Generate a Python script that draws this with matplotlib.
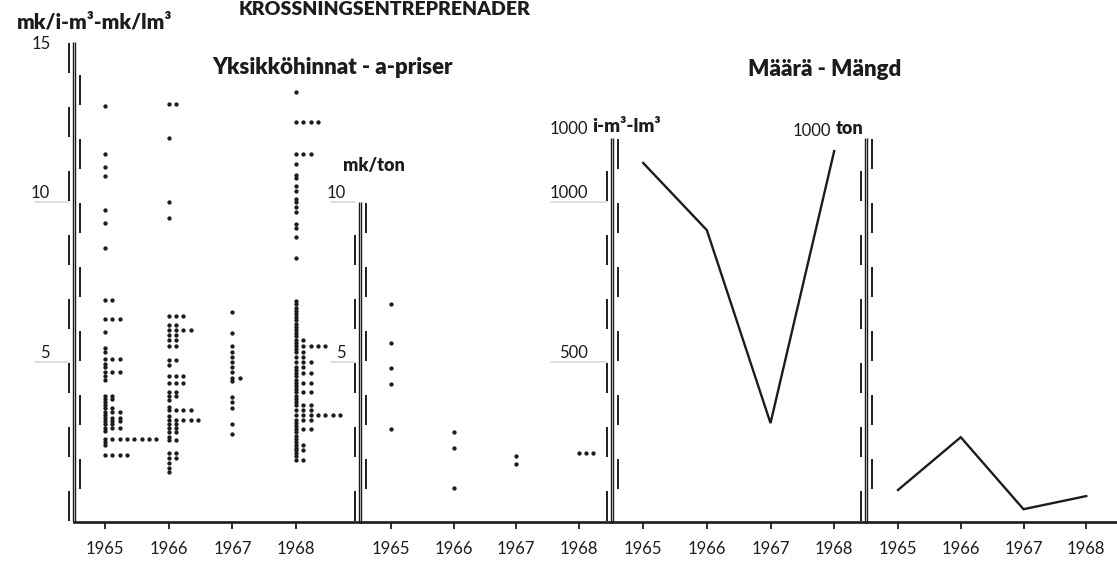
import numpy as np
import matplotlib.pyplot as plt
import matplotlib.transforms as mtransforms

plt.rcParams['font.family'] = ['Lato', 'DejaVu Sans']

W, H = 1117, 561
INK = '#1c1c1c'

years = [1965, 1966, 1967, 1968]

# mk/i-m3 - mk/lm3 : unit price readings, value and number of equal readings
vals_1965 = [13.0, 11.5, 11.1, 10.8, 9.75, 9.35, 8.55, 6.95, 6.35, 5.95, 5.45, 5.3,
             5.1, 4.95, 4.85, 4.7, 4.55, 4.45, 3.95, 3.85, 3.75, 3.65, 3.55, 3.45,
             3.35, 3.25, 3.15, 3.05, 2.95, 2.85, 2.6, 2.5, 2.4, 2.1]
cnt_1965 = [1, 1, 1, 1, 1, 1, 1, 2, 3, 1, 1, 1,
            3, 1, 1, 3, 1, 1, 2, 2, 1, 1, 2, 3,
            1, 3, 3, 2, 3, 1, 8, 1, 1, 4]

vals_1966 = [13.05, 12.0, 10.0, 9.5, 6.45, 6.15, 6.0, 5.85, 5.7, 5.5, 5.05, 4.9,
             4.55, 4.35, 4.05, 3.95, 3.8, 3.6, 3.5, 3.3, 3.2, 3.05, 2.95, 2.8,
             2.65, 2.55, 2.15, 2.0, 1.85, 1.7, 1.55]
cnt_1966 = [2, 1, 1, 1, 3, 2, 4, 2, 2, 2, 2, 1,
            3, 3, 2, 2, 1, 1, 4, 1, 5, 2, 2, 2,
            1, 2, 2, 2, 1, 1, 1]

vals_1967 = [6.55, 5.9, 5.5, 5.3, 5.15, 5.0, 4.85, 4.7, 4.5, 4.4, 3.9, 3.75, 3.55,
             3.05, 2.75]
cnt_1967 = [1, 1, 1, 1, 1, 1, 1, 1, 2, 1, 1, 1, 1,
            1, 1]

vals_1968 = [13.45, 12.5, 11.5, 11.2, 10.85, 10.75, 10.5, 10.35, 10.1, 10.0, 9.85,
             9.7, 9.3, 9.2, 8.9, 8.25,
             6.9, 6.8, 6.7, 6.6, 6.5, 6.4, 6.3, 6.2, 6.1, 6.0, 5.9, 5.8, 5.7, 5.6,
             5.5, 5.4, 5.3, 5.15, 5.0, 4.85, 4.75, 4.65, 4.55, 4.45, 4.35, 4.25,
             4.15, 4.05, 3.95, 3.85, 3.75, 3.65, 3.5, 3.35, 3.2, 3.1, 3.0, 2.9,
             2.8, 2.7, 2.6, 2.5, 2.4, 2.3, 2.25, 2.15, 2.05, 1.95]
cnt_1968 = [1, 4, 3, 1, 1, 1, 1, 1, 1, 1, 1,
            1, 1, 1, 1, 1,
            1, 1, 1, 1, 1, 1, 1, 1, 1, 1, 1, 1, 2, 1,
            5, 1, 2, 2, 3, 2, 1, 3, 1, 1, 3, 1,
            1, 3, 1, 1, 1, 3, 3, 7, 3, 1, 1, 3,
            1, 1, 1, 1, 2, 1, 2, 1, 1, 2]

# mk/ton
ton_price_vals = {1965: [6.8, 5.6, 4.8, 4.3, 2.9],
                  1966: [2.8, 2.3, 1.05],
                  1967: [2.05, 1.8],
                  1968: [2.15]}
ton_price_cnt = {1965: [1, 1, 1, 1, 1],
                 1966: [1, 1, 1],
                 1967: [1, 1],
                 1968: [3]}

# 1000 i-m3 - lm3 and 1000 ton
volume_m3 = [1122, 912, 309, 1159]
volume_ton = [100, 265, 40, 81]

fig = plt.figure(figsize=(W / 100, H / 100), dpi=100)


def px_axes(left, right, top, bottom=522):
    return fig.add_axes([left / W, 1 - bottom / H, (right - left) / W, (bottom - top) / H])


def shift(ax, dx_px, dy_px=0):
    return ax.get_yaxis_transform() + mtransforms.ScaledTranslation(
        dx_px / 100, dy_px / 100, fig.dpi_scale_trans)


def scale_bar(ax, ymax, step):
    # double solid rule with alternating dash marks, one dash per unit
    for dx in (-1.2, 1.2):
        ax.plot([0, 0], [0, ymax], transform=shift(ax, dx), color=INK, lw=1.0,
                clip_on=False, solid_capstyle='butt')
    y, k = 0.0, 0
    gap = step * 0.04
    while y < ymax - 1e-9:
        dx = -5.5 if k % 2 == 0 else 5.5
        ax.plot([0, 0], [y + gap, min(y + step, ymax) - gap], transform=shift(ax, dx),
                color=INK, lw=1.4, clip_on=False, solid_capstyle='butt')
        y += step
        k += 1


def y_label(ax, value, text, offset_px, width_px):
    ax.text(0, value, text, transform=shift(ax, -offset_px, 1), ha='right', va='bottom',
            fontsize=12, color=INK)
    ax.annotate('', xy=(0, value), xycoords=shift(ax, -2),
                xytext=(0, value), textcoords=shift(ax, -offset_px - width_px),
                arrowprops=dict(arrowstyle='-', color='0.7', lw=0.6))


def style(ax, xlim, ylim):
    ax.set_xlim(*xlim)
    ax.set_ylim(*ylim)
    for s in ('left', 'right', 'top'):
        ax.spines[s].set_visible(False)
    ax.spines['bottom'].set_linewidth(1.9)
    ax.spines['bottom'].set_color(INK)
    ax.set_yticks([])
    ax.set_xticks(years)
    ax.set_xticklabels([str(y) for y in years], fontsize=12, color=INK)
    ax.tick_params(axis='x', length=5, width=1.3, color=INK, pad=9)
    ax.patch.set_alpha(0)


def dot_column(ax, year, vals, cnts, step):
    xs, ys = [], []
    for v, n in zip(vals, cnts):
        for i in range(n):
            xs.append(year + i * step)
            ys.append(v)
    ax.plot(xs, ys, 'o', ms=3.1, color=INK, mec='none', clip_on=False)


# unit prices per cubic metre
ax1 = px_axes(74, 360, 42)
style(ax1, (1964.513, 1969.005), (0, 15))
for yr, v, c in zip(years, [vals_1965, vals_1966, vals_1967, vals_1968],
                    [cnt_1965, cnt_1966, cnt_1967, cnt_1968]):
    dot_column(ax1, yr, v, c, 0.115)
scale_bar(ax1, 15, 1)
for val, txt in [(10, '10'), (5, '5')]:
    y_label(ax1, val, txt, 24, 18)
ax1.text(0, 15, '15', transform=shift(ax1, -23, -10), ha='right', va='bottom',
         fontsize=12, color=INK)

# unit prices per ton
ax2 = px_axes(360, 612, 202)
style(ax2, (1964.505, 1968.527), (0, 10))
for yr in years:
    dot_column(ax2, yr, ton_price_vals[yr], ton_price_cnt[yr], 0.115)
scale_bar(ax2, 10, 1)
for val, txt in [(10, '10'), (5, '5')]:
    y_label(ax2, val, txt, 14, 18)

# quantity, cubic metres
ax3 = px_axes(612, 866, 138)
style(ax3, (1964.51, 1968.5), (0, 1200))
ax3.plot(years, volume_m3, color=INK, lw=1.7, solid_joinstyle='miter')
scale_bar(ax3, 1200, 100)
for val, txt in [(1000, '1000'), (500, '500')]:
    y_label(ax3, val, txt, 24, 40)

# quantity, tons
ax4 = px_axes(866, 1117, 138)
style(ax4, (1964.49, 1968.49), (0, 1200))
ax4.plot(years, volume_ton, color=INK, lw=1.7, solid_joinstyle='miter')
scale_bar(ax4, 1200, 100)


def ftext(x, y, s, **kw):
    kw.setdefault('color', INK)
    fig.text(x / W, 1 - y / H, s, **kw)


ftext(385, 1, 'KROSSNINGSENTREPRENADER', ha='center', va='top', fontsize=14,
      fontweight='heavy')
ftext(95, 22, 'mk/i-m³-mk/lm³', ha='center', va='center', fontsize=15, fontweight='heavy')
ftext(332, 67, 'Yksikköhinnat - a-priser', ha='center', va='center', fontsize=16,
      fontweight='heavy')
ftext(825, 70, 'Määrä - Mängd', ha='center', va='center', fontsize=16,
      fontweight='heavy')
ftext(374, 166, 'mk/ton', ha='center', va='center', fontsize=13, fontweight='heavy')
ftext(588, 129, '1000', ha='right', va='center', fontsize=12)
ftext(592, 127, 'i-m³-lm³', ha='left', va='center', fontsize=13.5, fontweight='heavy')
ftext(831, 131, '1000', ha='right', va='center', fontsize=12)
ftext(836, 129, 'ton', ha='left', va='center', fontsize=13, fontweight='heavy')

fig.savefig('out.png', dpi=100)
